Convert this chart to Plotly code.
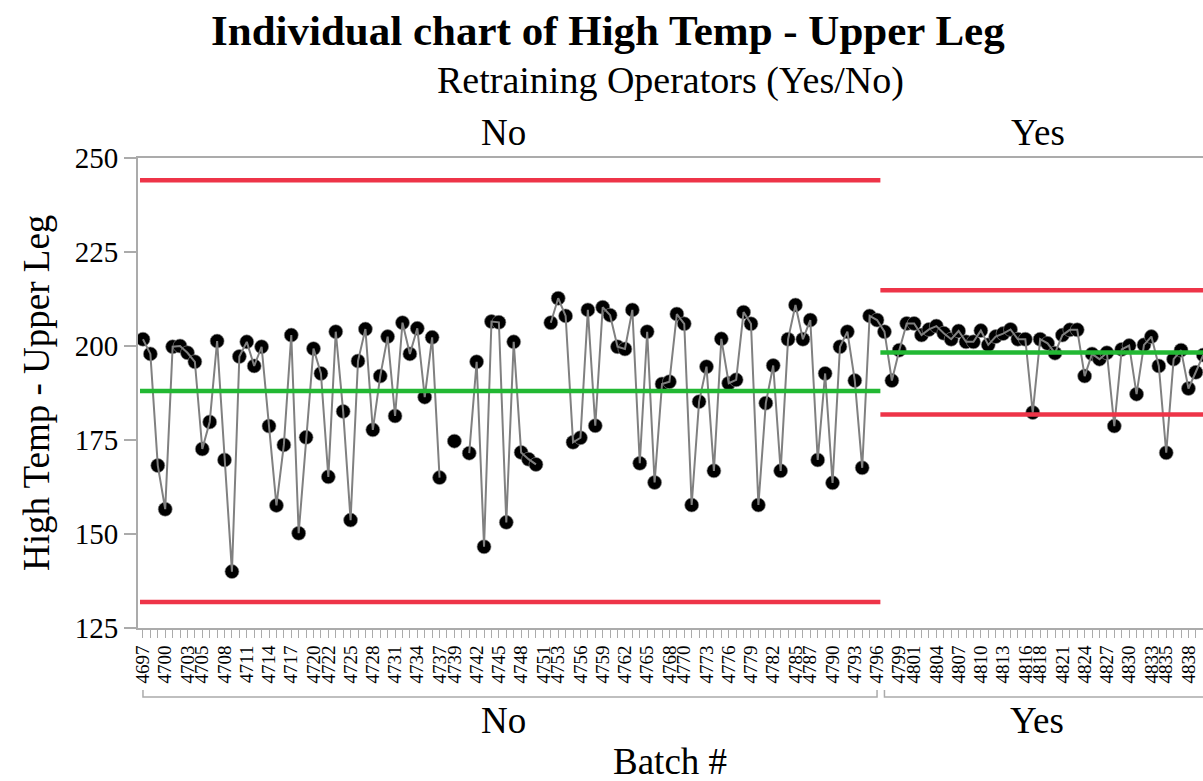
import plotly.graph_objects as go

# ---------------- data ----------------
no_batches = list(range(4697, 4797))
no_values = [201.8, 197.9, 168.2, 156.6, 199.8, 200.0, 198.2, 195.8, 172.6, 179.8,
             201.3, 169.7, 140.0, 197.2, 201.1, 194.7, 199.8, 178.7, 157.6, 173.7,
             202.9, 150.2, 175.7, 199.3, 192.7, 165.2, 203.8, 182.6, 153.7, 196.0,
             204.5, 177.7, 192.0, 202.5, 181.4, 206.2, 197.9, 204.7, 186.4, 202.3,
             165.0, None, 174.7, None, 171.5, 195.8, 146.6, 206.5, 206.3, 153.1,
             201.1, 171.7, 169.9, 168.5, None, 206.2, 212.7, 208.0, 174.4, 175.6,
             209.6, 178.8, 210.3, 208.2, 199.8, 199.2, 209.6, 168.8, 203.8, 163.7,
             189.9, 190.5, 208.5, 205.9, 157.7, 185.2, 194.5, 166.8, 201.9, 190.1,
             191.0, 209.0, 205.9, 157.7, 184.8, 194.8, 166.8, 201.8, 210.9, 201.8,
             206.9, 169.7, 192.7, 163.6, 199.8, 203.8, 190.8, 167.6, 208.0, 206.9]

yes_batches = list(range(4797, 4841))
yes_values = [203.8, 190.8, 198.9, 206.0, 206.0, 202.9, 204.4, 205.3, 203.4, 201.8,
              204.0, 201.1, 201.1, 204.1, 200.3, 202.5, 203.3, 204.4, 201.8, 201.8,
              182.3, 201.8, 200.7, 198.1, 202.9, 204.3, 204.3, 192.0, 197.9, 196.5,
              198.2, 178.7, 199.1, 200.1, 187.2, 200.3, 202.5, 194.7, 171.6, 196.5,
              198.9, 188.7, 193.0, 197.6]

no_limits = {"UCL": 244.1, "CL": 188.0, "LCL": 131.9}
yes_limits = {"UCL": 214.8, "CL": 198.3, "LCL": 181.8}

tick_labels = [4697, 4700, 4703, 4705, 4708, 4711, 4714, 4717, 4720, 4722, 4725,
               4728, 4731, 4734, 4737, 4739, 4742, 4745, 4748, 4751, 4753, 4756,
               4759, 4762, 4765, 4768, 4770, 4773, 4776, 4779, 4782, 4785, 4787,
               4790, 4793, 4796, 4799, 4801, 4804, 4807, 4810, 4813, 4816, 4818,
               4821, 4824, 4827, 4830, 4833, 4835, 4838]
y_ticks = [125, 150, 175, 200, 225, 250]

# ---------------- figure ----------------
FONT = "Liberation Serif"
RED = "#EE3448"
GREEN = "#22B833"
AXC = "#ababab"

batches = no_batches + yes_batches
values = no_values + yes_values

fig = go.Figure()
# markers (below)
fig.add_trace(go.Scatter(x=batches, y=values, mode="markers",
                         marker=dict(color="black", size=14,
                                     line=dict(color="rgba(140,140,140,0.8)", width=0.8)),
                         hoverinfo="x+y", showlegend=False))
# connecting line (on top of markers)
fig.add_trace(go.Scatter(x=batches, y=values, mode="lines", connectgaps=False,
                         line=dict(color="#808080", width=2),
                         hoverinfo="skip", showlegend=False))

x_left, x_split, x_right = 4696.6, 4796.45, 4841.0
for lims, x0, x1 in [(no_limits, x_left, x_split), (yes_limits, x_split, x_right)]:
    for key in ["UCL", "LCL", "CL"]:
        fig.add_trace(go.Scatter(x=[x0, x1], y=[lims[key], lims[key]], mode="lines",
                                 line=dict(color=GREEN if key == "CL" else RED, width=4.5),
                                 hoverinfo="skip", showlegend=False))

all_ticks = list(range(no_batches[0], yes_batches[-1] + 1))
tick_text = [str(b) if b in tick_labels else "" for b in all_ticks]

fig.update_layout(
    width=1203, height=781,
    margin=dict(l=138, r=0, t=158, b=153),
    paper_bgcolor="white", plot_bgcolor="white",
    font=dict(family=FONT, color="black"),
    xaxis=dict(range=[4696.33, 4839.96], tickmode="array", tickvals=all_ticks,
               ticktext=tick_text, tickangle=-90, ticks="outside", ticklen=8,
               tickwidth=1, tickcolor=AXC, showline=True, linecolor=AXC, linewidth=2,
               mirror=True, showgrid=False, zeroline=False, automargin=False,
               tickfont=dict(family=FONT, size=19, color="black")),
    yaxis=dict(range=[125, 250], tickmode="array", tickvals=y_ticks, ticks="outside",
               ticklen=12, tickwidth=1.5, tickcolor=AXC, showline=True, linecolor=AXC,
               linewidth=2, showgrid=False, zeroline=False, automargin=False,
               tickfont=dict(family=FONT, size=29, color="black")),
)

def px_x(px):
    return (px - 138) / 1065.0

def px_y(py):
    return (628 - py) / 470.0

annots = [
    dict(text="<b>Individual chart of High Temp - Upper Leg</b>", x=px_x(608), y=px_y(30),
         size=43),
    dict(text="Retraining Operators (Yes/No)", x=px_x(670), y=px_y(81), size=38),
    dict(text="No", x=px_x(503), y=px_y(132), size=37),
    dict(text="Yes", x=px_x(1038), y=px_y(132), size=37),
    dict(text="No", x=px_x(503), y=px_y(720), size=37),
    dict(text="Yes", x=px_x(1037), y=px_y(720), size=37),
    dict(text="Batch #", x=px_x(670), y=px_y(761), size=37),
]
for a in annots:
    fig.add_annotation(text=a["text"], x=a["x"], y=a["y"], xref="paper", yref="paper",
                       xanchor="center", yanchor="middle", showarrow=False,
                       font=dict(family=FONT, size=a["size"], color="black"))
fig.add_annotation(text="High Temp - Upper Leg", x=px_x(36), y=px_y(393), xref="paper",
                   yref="paper", xanchor="center", yanchor="middle", textangle=-90,
                   showarrow=False, font=dict(family=FONT, size=37, color="black"))

# group brackets under the tick labels
yb, yt = px_y(697), px_y(690)
for x0, x1 in [(no_batches[0], no_batches[-1]), (yes_batches[0], x_right)]:
    fig.add_shape(type="path", xref="x", yref="paper",
                  path=f"M {x0},{yt} L {x0},{yb} L {x1},{yb} L {x1},{yt}",
                  line=dict(color=AXC, width=1.5))

fig.write_html("out.html")
